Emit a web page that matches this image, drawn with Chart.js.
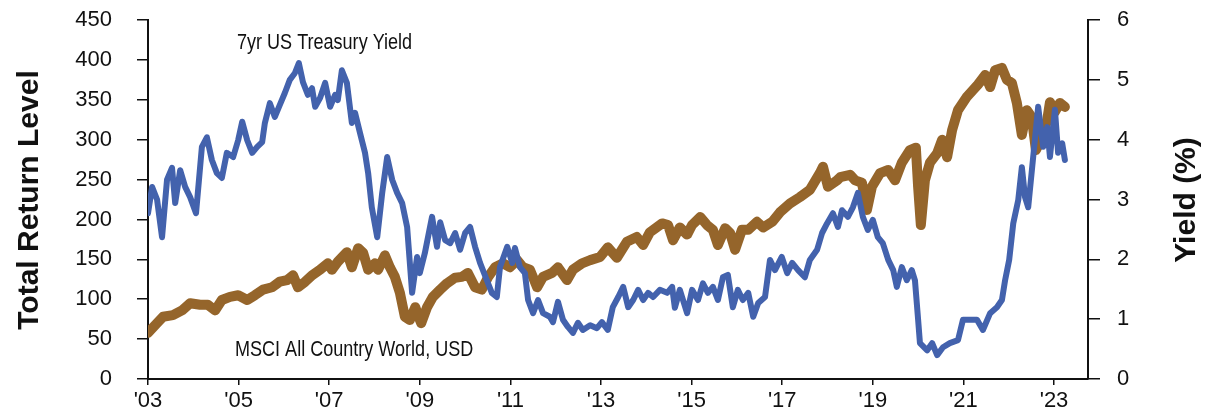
<!DOCTYPE html>
<html>
<head>
<meta charset="utf-8">
<script src="https://cdn.jsdelivr.net/npm/chart.js@4.4.1/dist/chart.umd.min.js"></script>
<style>
  html, body { margin: 0; padding: 0; background: #fff; }
  #wrap { width: 1213px; height: 411px; }
</style>
</head>
<body>
<div id="wrap"><canvas id="chart" width="1213" height="411"></canvas></div>
<script>
// MSCI All Country World total return level (left axis), decimal years
const msciDates = [
  2003.00, 2003.20, 2003.33, 2003.55, 2003.75, 2003.93,
  2004.15, 2004.32, 2004.48, 2004.63, 2004.81, 2004.99,
  2005.19, 2005.36, 2005.54, 2005.74, 2005.91,
  2006.07, 2006.20, 2006.31, 2006.47, 2006.62, 2006.80, 2006.97,
  2007.06, 2007.19, 2007.39, 2007.50, 2007.64, 2007.75, 2007.86,
  2008.01, 2008.08, 2008.23, 2008.34, 2008.45, 2008.56, 2008.67, 2008.78, 2008.90, 2008.96,
  2009.03, 2009.16, 2009.29, 2009.45, 2009.60, 2009.78, 2009.93,
  2010.06, 2010.22, 2010.37, 2010.51, 2010.66, 2010.84, 2010.99,
  2011.15, 2011.28, 2011.43, 2011.59, 2011.72, 2011.92,
  2012.05, 2012.25, 2012.38, 2012.58, 2012.76, 2012.98,
  2013.15, 2013.35, 2013.57, 2013.79, 2013.93,
  2014.08, 2014.35, 2014.48, 2014.59, 2014.74, 2014.90,
  2015.01, 2015.19, 2015.34, 2015.47, 2015.58, 2015.74, 2015.85, 2015.96,
  2016.11, 2016.25, 2016.44, 2016.58, 2016.78, 2016.95,
  2017.17, 2017.39, 2017.61, 2017.83, 2017.90,
  2018.01, 2018.21, 2018.28, 2018.50, 2018.61, 2018.76, 2018.87, 2018.98,
  2019.16, 2019.34, 2019.49, 2019.64, 2019.82, 2019.95,
  2020.00, 2020.06, 2020.15, 2020.26, 2020.42, 2020.53, 2020.64, 2020.75, 2020.88,
  2021.08, 2021.21, 2021.32, 2021.48, 2021.59, 2021.70, 2021.85, 2021.96,
  2022.07, 2022.18, 2022.29, 2022.40, 2022.51, 2022.60, 2022.74, 2022.85, 2022.91,
  2023.02, 2023.13, 2023.24
];
const msciValues = [
  58, 70, 78, 80, 86, 95,
  93, 93, 86, 99, 103, 105,
  99, 105, 112, 115, 122,
  124, 130, 115, 122, 130, 137, 145,
  137, 147, 159, 140, 164, 158, 137,
  145, 137, 155, 140, 128, 108, 78, 74, 90, 80,
  70, 90, 103, 112, 120, 127, 128,
  133, 115, 112, 128, 140, 145, 140,
  149, 140, 137, 115, 128, 133,
  140, 124, 137, 145, 149, 153,
  165, 152, 172, 178, 168,
  184, 195, 193, 174, 190, 181,
  193, 203, 193, 187, 168, 189, 183, 162,
  187, 187, 197, 190, 197, 209,
  220, 228, 237, 258, 266,
  241, 249, 253, 256, 249, 246, 212, 241,
  258, 262, 249, 271, 287, 290,
  241, 193, 249, 271, 283, 300, 278, 312, 337,
  354, 362, 369, 381, 366, 387, 390, 375,
  371, 346, 306, 337, 328, 287, 303, 325, 347,
  335, 346, 341
];

// 7yr US Treasury yield, % (right axis)
const yieldDates = [
  2003.00, 2003.09, 2003.20, 2003.31, 2003.42, 2003.53, 2003.60, 2003.71, 2003.82, 2003.93,
  2004.06, 2004.19, 2004.30, 2004.41, 2004.52, 2004.63, 2004.74, 2004.88, 2004.99,
  2005.08, 2005.19, 2005.30, 2005.41, 2005.52, 2005.58, 2005.69, 2005.80, 2005.91,
  2006.02, 2006.13, 2006.24, 2006.33, 2006.42, 2006.53, 2006.62, 2006.69, 2006.80, 2006.91,
  2007.02, 2007.13, 2007.19, 2007.28, 2007.39, 2007.50, 2007.57, 2007.68, 2007.79, 2007.86, 2007.94,
  2008.06, 2008.17, 2008.28, 2008.39, 2008.50, 2008.61, 2008.72, 2008.83, 2008.94,
  2009.00, 2009.11, 2009.27, 2009.38, 2009.45, 2009.56, 2009.67, 2009.78, 2009.89,
  2010.00, 2010.11, 2010.22, 2010.33, 2010.48, 2010.59, 2010.70, 2010.77, 2010.93,
  2011.04, 2011.10, 2011.21, 2011.32, 2011.39, 2011.50, 2011.61, 2011.72, 2011.87, 2011.94,
  2012.05, 2012.16, 2012.27, 2012.38, 2012.49, 2012.60, 2012.76, 2012.91,
  2013.02, 2013.15, 2013.26, 2013.38, 2013.49, 2013.60, 2013.71, 2013.82, 2013.93,
  2014.04, 2014.15, 2014.30, 2014.46, 2014.57, 2014.63, 2014.74, 2014.90,
  2015.01, 2015.14, 2015.25, 2015.36, 2015.47, 2015.58, 2015.69, 2015.80, 2015.91,
  2016.02, 2016.13, 2016.25, 2016.36, 2016.47, 2016.62, 2016.73, 2016.84, 2016.99,
  2017.11, 2017.22, 2017.35, 2017.50, 2017.61, 2017.77, 2017.88, 2017.99,
  2018.12, 2018.23, 2018.32, 2018.45, 2018.56, 2018.67, 2018.78, 2018.89,
  2019.00, 2019.11, 2019.22, 2019.34, 2019.45, 2019.53, 2019.64, 2019.75, 2019.86, 2019.93,
  2020.00, 2020.04, 2020.20, 2020.31, 2020.42, 2020.55, 2020.70, 2020.88, 2020.99,
  2021.15, 2021.30, 2021.43, 2021.59, 2021.74, 2021.85, 2021.92,
  2022.01, 2022.10, 2022.21, 2022.29, 2022.36, 2022.43, 2022.54, 2022.65, 2022.76, 2022.85, 2022.91,
  2023.02, 2023.09, 2023.18, 2023.24
];
const yieldValues = [
  2.77, 3.21, 3.00, 2.37, 3.33, 3.53, 2.94, 3.49, 3.21, 3.04,
  2.77, 3.88, 4.04, 3.66, 3.44, 3.36, 3.78, 3.71, 3.99,
  4.30, 3.99, 3.78, 3.88, 3.96, 4.28, 4.61, 4.38, 4.58,
  4.78, 5.00, 5.11, 5.28, 4.96, 4.75, 4.86, 4.55, 4.70, 4.95,
  4.55, 4.75, 4.66, 5.16, 4.95, 4.28, 4.45, 4.11, 3.78, 3.44, 2.87,
  2.37, 3.11, 3.71, 3.33, 3.11, 2.94, 2.54, 1.44, 2.04,
  1.77, 2.10, 2.71, 2.21, 2.62, 2.32, 2.27, 2.44, 2.16,
  2.44, 2.54, 2.21, 1.94, 1.65, 1.44, 1.37, 1.87, 2.21,
  1.94, 2.19, 1.87, 1.77, 1.32, 1.10, 1.32, 1.10, 1.04, 0.95,
  1.29, 0.99, 0.87, 0.77, 0.94, 0.82, 0.90, 0.85,
  0.95, 0.82, 1.20, 1.37, 1.54, 1.20, 1.32, 1.49, 1.32,
  1.44, 1.37, 1.49, 1.44, 1.54, 1.19, 1.49, 1.10,
  1.49, 1.32, 1.60, 1.44, 1.54, 1.32, 1.70, 1.74, 1.20,
  1.49, 1.32, 1.44, 1.04, 1.27, 1.37, 1.99, 1.82, 2.04,
  1.77, 1.94, 1.82, 1.70, 1.99, 2.16, 2.44, 2.60,
  2.77, 2.54, 2.82, 2.71, 2.87, 3.11, 2.71, 2.49,
  2.66, 2.37, 2.27, 1.99, 1.82, 1.54, 1.87, 1.65, 1.82, 1.65,
  0.99, 0.60, 0.48, 0.60, 0.40, 0.53, 0.60, 0.65, 0.99,
  0.99, 0.99, 0.82, 1.10, 1.20, 1.32, 1.65,
  1.99, 2.60, 2.99, 3.54, 3.04, 2.87, 3.71, 4.55, 3.88, 4.21, 3.71,
  4.50, 3.78, 3.94, 3.66
];

const xTickYears = [2003, 2005, 2007, 2009, 2011, 2013, 2015, 2017, 2019, 2021, 2023];
const xTickLabels = ["'03", "'05", "'07", "'09", "'11", "'13", "'15", "'17", "'19", "'21", "'23"];

const BLUE = "#4362ad";
const BROWN = "#95652b";
const tickFont = { family: "'Liberation Sans', Arial, sans-serif", size: 22 };

const toPoints = (xs, ys) => xs.map((x, i) => ({ x: x, y: ys[i] }));

// keep the y axes from pushing the plot area in (their label padding counts as layout padding)
const fixYPadding = (width) => (scale) => {
  scale.width = width;
  scale.paddingTop = 10;
  scale.paddingBottom = 10;
};

// axis titles and series labels
const textPlugin = {
  id: "texts",
  afterDraw(chart) {
    const ctx = chart.ctx;
    const titles = [["Total Return Level", 30], ["Yield (%)", 1187]];
    titles.forEach(([txt, cx]) => {
      ctx.save();
      ctx.fillStyle = "#111";
      ctx.font = "bold 30px 'Liberation Sans', Arial, sans-serif";
      ctx.textAlign = "center";
      ctx.textBaseline = "middle";
      ctx.translate(cx, 200);
      ctx.rotate(-Math.PI / 2);
      ctx.fillText(txt, 0, 0);
      ctx.restore();
    });

    // condensed look for the series labels
    const labels = [["7yr US Treasury Yield", 237, 43], ["MSCI All Country World, USD", 235, 350]];
    labels.forEach(([txt, x, y]) => {
      ctx.save();
      ctx.fillStyle = "#111";
      ctx.font = "22px 'Liberation Sans', Arial, sans-serif";
      ctx.textAlign = "left";
      ctx.textBaseline = "middle";
      ctx.translate(x, y);
      ctx.scale(0.82, 1);
      ctx.fillText(txt, 0, 0);
      ctx.restore();
    });
  }
};

new Chart(document.getElementById("chart").getContext("2d"), {
  type: "line",
  data: {
    datasets: [
      {
        label: "7yr US Treasury Yield",
        data: toPoints(yieldDates, yieldValues),
        yAxisID: "y1",
        borderColor: BLUE,
        borderWidth: 6,
        pointRadius: 0,
        tension: 0,
        borderJoinStyle: "round",
        borderCapStyle: "round"
      },
      {
        label: "MSCI All Country World, USD",
        data: toPoints(msciDates, msciValues),
        yAxisID: "y",
        borderColor: BROWN,
        borderWidth: 10,
        pointRadius: 0,
        tension: 0,
        borderJoinStyle: "round",
        borderCapStyle: "round"
      }
    ]
  },
  options: {
    responsive: false,
    animation: false,
    devicePixelRatio: 1,
    layout: { padding: { top: 20, right: 0, bottom: 0, left: 0 } },
    plugins: {
      legend: { display: false },
      tooltip: { enabled: false }
    },
    scales: {
      x: {
        type: "linear",
        min: 2003,
        max: 2023.75,
        afterBuildTicks: (scale) => { scale.ticks = xTickYears.map(v => ({ value: v })); },
        afterFit: (scale) => { scale.height = 32; },
        grid: { drawOnChartArea: false, tickLength: 6, color: "#111", lineWidth: 1.5 },
        border: { color: "#111", width: 2 },
        ticks: {
          font: tickFont,
          color: "#111",
          padding: 3,
          maxRotation: 0,
          autoSkip: false,
          callback: (v) => xTickLabels[xTickYears.indexOf(v)]
        }
      },
      y: {
        position: "left",
        min: 0,
        max: 450,
        afterFit: fixYPadding(148),
        grid: { drawOnChartArea: false, tickLength: 11, color: "#111", lineWidth: 1.5 },
        border: { color: "#111", width: 2 },
        ticks: { stepSize: 50, font: tickFont, color: "#111", padding: 25 }
      },
      y1: {
        position: "right",
        min: 0,
        max: 6,
        afterFit: fixYPadding(125),
        grid: { drawOnChartArea: false, tickLength: 12, color: "#111", lineWidth: 1.5 },
        border: { color: "#111", width: 2 },
        ticks: { stepSize: 1, font: tickFont, color: "#111", padding: 17 }
      }
    }
  },
  plugins: [textPlugin]
});
</script>
</body>
</html>
